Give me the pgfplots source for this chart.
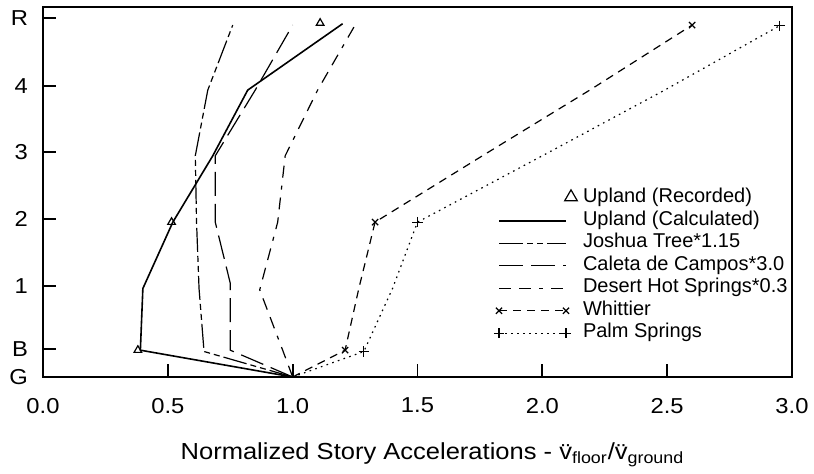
\documentclass[border=0pt]{standalone}
\usepackage{fontspec}
\setmainfont{Liberation Sans}
\newfontfamily\widefont[FakeStretch=1.1]{Liberation Sans}
\usepackage{pgfplots}
\pgfplotsset{compat=1.18}
\pgfplotsset{
  legrec/.style={legend image code/.code={\path[draw=none] (0pt,0pt) -- (41pt,0pt);
    \draw[solid, line width=0.6pt] plot[only marks, mark=triangle, mark size=3.6pt] coordinates {(36pt,0.6pt)};}},
  legwhit/.style={legend image code/.code={\path[draw=none] (0pt,0pt) -- (41pt,0pt);
    \draw[##1] (0pt,0pt) -- (33.5pt,0pt);
    \draw[solid, line width=0.6pt] plot[only marks, mark=x, mark size=2.2pt] coordinates {(0pt,0pt) (33.5pt,0pt)};}},
  legpalm/.style={legend image code/.code={\path[draw=none] (0pt,0pt) -- (41pt,0pt);
    \draw[##1] (0pt,0pt) -- (33.5pt,0pt);
    \draw[solid, line width=0.6pt] plot[only marks, mark=+, mark size=2.6pt] coordinates {(0pt,0pt) (33.5pt,0pt)};}},
}
\begin{document}
\begin{tikzpicture}
\useasboundingbox (-21.5pt,-48.5pt) rectangle (385.5pt,188.5pt);
\begin{axis}[
  at={(0pt,0pt)}, anchor=south west,
  scale only axis, width=374.5pt, height=185pt,
  xmin=0, xmax=3, ymin=0, ymax=5.52,
  xtick={0,0.5,1,1.5,2,2.5,3},
  ytick={0,0.42,1.36,2.36,3.36,4.34,5.35},
  yticklabels={G,B,1,2,3,4,R},
  tick pos=left, tick align=inside,
  major tick length=6.5pt,
  major tick style={line width=0.9pt, black},
  axis line style={line width=0.9pt},
  ticklabel style={font=\widefont\fontsize{10.8}{13}\selectfont},
  xticklabel style={yshift=-7pt, /pgf/number format/.cd, fixed, fixed zerofill, precision=1, assume math mode=true},
  yticklabel style={xshift=-4pt},
  xlabel={Normalized Story Accelerations - \"v\textsubscript{floor}/\"v\textsubscript{ground}},
  xlabel style={font=\widefont\fontsize{11.6}{13}\selectfont, at={(axis description cs:0.52,0)}, anchor=center, yshift=-39pt},
  legend style={at={(axis cs:1.78,2.90)}, anchor=north west, draw=none, fill=none,
    font=\fontsize{10}{12}\selectfont, row sep=0pt,
    nodes={inner sep=1pt, text height=6.75pt, text depth=2.5pt}},
  legend cell align=left,
  legend image code/.code={\path[draw=none] (0pt,0pt) -- (41pt,0pt); \draw[#1] (0pt,0pt) -- (33.5pt,0pt);},
  every axis plot/.append style={black, line width=0.6pt},
]
% Upland (Recorded)
\addplot[only marks, mark=triangle, mark size=2.2pt, mark options={solid, line width=0.6pt}, legrec]
  coordinates {(0.38,0.40) (0.515,2.31) (1.11,5.28)};
\addlegendentry{Upland (Recorded)}
% Upland (Calculated)
\addplot[solid, line width=0.8pt]
  coordinates {(1.0,0) (0.39,0.40) (0.40,1.32) (0.52,2.31) (0.68,3.30) (0.82,4.28) (1.20,5.27)};
\addlegendentry{Upland (Calculated)}
% Joshua Tree
\addplot[dash pattern=on 12pt off 2pt on 3pt off 2pt on 3pt off 2pt]
  coordinates {(1.0,0) (0.645,0.38) (0.625,1.32) (0.615,2.31) (0.61,3.30) (0.66,4.28) (0.76,5.25)};
\addlegendentry{Joshua Tree*1.15}
% Caleta de Campos
\addplot[dash pattern=on 12pt off 4pt]
  coordinates {(1.0,0) (0.75,0.40) (0.75,1.40) (0.69,2.31) (0.69,3.30) (0.85,4.28) (1.0,5.25)};
\addlegendentry{Caleta de Campos*3.0}
% Desert Hot Springs
\addplot[dash pattern=on 6pt off 4pt on 6pt off 4pt on 2pt off 4pt]
  coordinates {(1.0,0) (0.96,0.40) (0.868,1.30) (0.94,2.31) (0.97,3.30) (1.10,4.28) (1.25,5.25)};
\addlegendentry{Desert Hot Springs*0.3}
% Whittier
\addplot[dash pattern=on 4pt off 3pt, legwhit]
  coordinates {(1.0,0) (1.21,0.40) (1.265,1.32) (1.33,2.31) (1.76,3.30) (2.19,4.28) (2.60,5.25)};
\addlegendentry{Whittier}
\addplot[forget plot, only marks, mark=x, mark size=2.2pt, mark options={solid}]
  coordinates {(1.21,0.40) (1.33,2.31) (2.60,5.25)};
% Palm Springs
\addplot[dash pattern=on 0.8pt off 2.2pt, legpalm]
  coordinates {(1.0,0) (1.285,0.38) (1.40,1.32) (1.50,2.31) (2.00,3.30) (2.49,4.28) (2.95,5.24)};
\addlegendentry{Palm Springs}
\addplot[forget plot, only marks, mark=+, mark size=2.6pt, mark options={solid}]
  coordinates {(1.285,0.38) (1.50,2.31) (2.95,5.24)};
\end{axis}
\end{tikzpicture}
\end{document}
